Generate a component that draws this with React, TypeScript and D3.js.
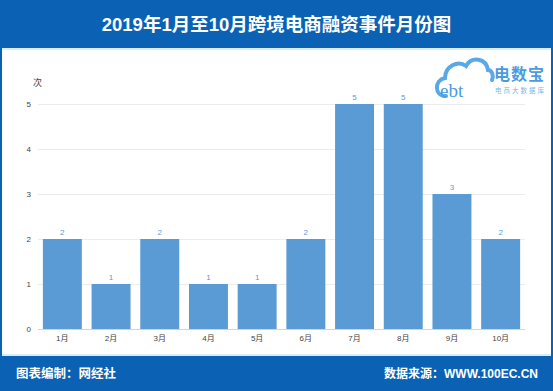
import React, { useEffect, useRef } from "react";
import * as d3 from "d3";

const months = ["1月", "2月", "3月", "4月", "5月", "6月", "7月", "8月", "9月", "10月"];
const counts = [2, 1, 2, 1, 1, 2, 5, 5, 3, 2];
const yTicks = [0, 1, 2, 3, 4, 5];

const title = "2019年1月至10月跨境电商融资事件月份图";
const unitLabel = "次";
const footerLeft = "图表编制：网经社";
const footerRight = "数据来源：WWW.100EC.CN";

const App: React.FC = () => {
  const svgRef = useRef<SVGSVGElement | null>(null);

  useEffect(() => {
    if (!svgRef.current) return;
    const svg = d3.select(svgRef.current);
    svg.selectAll("*").remove();

    const width = 553;
    const height = 391;
    const font = "Arial, 'Liberation Sans', 'Noto Sans CJK SC', sans-serif";
    const blue = "#0b62b4";

    svg.attr("width", width).attr("height", height);

    svg.append("rect").attr("width", width).attr("height", height).attr("fill", "#fff");

    // header
    svg.append("rect").attr("x", 0).attr("y", 0).attr("width", width).attr("height", 48).attr("fill", blue);
    svg.append("rect").attr("x", 0).attr("y", 48).attr("width", width).attr("height", 2).attr("fill", "#d6eefa");
    svg
      .append("text")
      .attr("x", width / 2)
      .attr("y", 31)
      .attr("text-anchor", "middle")
      .attr("fill", "#fff")
      .attr("font-family", font)
      .attr("font-weight", "bold")
      .attr("font-size", 18.5)
      .text(title);

    // footer
    svg.append("rect").attr("x", 0).attr("y", 354).attr("width", width).attr("height", 2).attr("fill", "#d6eefa");
    svg.append("rect").attr("x", 0).attr("y", 356).attr("width", width).attr("height", 35).attr("fill", blue);
    svg
      .append("text")
      .attr("x", 16)
      .attr("y", 378)
      .attr("fill", "#fff")
      .attr("font-family", font)
      .attr("font-weight", "bold")
      .attr("font-size", 12.5)
      .text(footerLeft);
    svg
      .append("text")
      .attr("x", 538)
      .attr("y", 378)
      .attr("text-anchor", "end")
      .attr("fill", "#fff")
      .attr("font-family", font)
      .attr("font-weight", "bold")
      .attr("font-size", 12)
      .text(footerRight);

    // side borders
    svg.append("rect").attr("x", 0).attr("y", 0).attr("width", 2).attr("height", height).attr("fill", blue);
    svg.append("rect").attr("x", width - 2).attr("y", 0).attr("width", 2).attr("height", height).attr("fill", blue);

    // chart
    const x = d3.scaleBand<string>().domain(months).range([38, 525]).paddingInner(0.2).paddingOuter(0.1);
    const y = d3.scaleLinear().domain([0, 5]).range([329, 104]);

    const grid = svg.append("g");
    grid
      .selectAll("line")
      .data(yTicks)
      .join("line")
      .attr("x1", 38)
      .attr("x2", 525)
      .attr("y1", (d) => y(d) + 0.5)
      .attr("y2", (d) => y(d) + 0.5)
      .attr("stroke", (d) => (d === 0 ? "#c9d6e3" : "#ececec"))
      .attr("stroke-width", 1);
    grid
      .selectAll("text")
      .data(yTicks)
      .join("text")
      .attr("x", 31)
      .attr("y", (d) => y(d) + 3)
      .attr("text-anchor", "end")
      .attr("fill", "#444")
      .attr("font-family", font)
      .attr("font-size", 8)
      .text((d) => String(d));

    svg
      .append("text")
      .attr("x", 33)
      .attr("y", 86)
      .attr("fill", "#444")
      .attr("font-family", font)
      .attr("font-size", 9)
      .text(unitLabel);

    const data = months.map((m, i) => ({ m, v: counts[i] }));

    svg
      .append("g")
      .attr("fill", "#5b9bd5")
      .selectAll("rect")
      .data(data)
      .join("rect")
      .attr("x", (d) => x(d.m)!)
      .attr("y", (d) => y(d.v))
      .attr("width", x.bandwidth())
      .attr("height", (d) => y(0) - y(d.v));

    svg
      .append("g")
      .selectAll("text")
      .data(data)
      .join("text")
      .attr("x", (d) => x(d.m)! + x.bandwidth() / 2)
      .attr("y", (d) => y(d.v) - 4)
      .attr("text-anchor", "middle")
      .attr("fill", "#5b9bd5")
      .attr("font-family", font)
      .attr("font-size", 8)
      .text((d) => String(d.v));

    svg
      .append("g")
      .selectAll("text")
      .data(months)
      .join("text")
      .attr("x", (d) => x(d)! + x.bandwidth() / 2)
      .attr("y", 341)
      .attr("text-anchor", "middle")
      .attr("fill", "#444")
      .attr("font-family", font)
      .attr("font-size", 8)
      .text((d) => d);

    // logo
    const logo = svg.append("g").attr("transform", "translate(436,56)");
    logo
      .append("path")
      .attr("d", "M10,40 C-2,40 -2,24 9,22 C9,10 22,4 30,10 C36,0 50,2 52,14 C56,14 58,20 56,24")
      .attr("fill", "none")
      .attr("stroke", "#5aa9e6")
      .attr("stroke-width", 4)
      .attr("stroke-linecap", "round");
    logo
      .append("text")
      .attr("x", 4)
      .attr("y", 41)
      .attr("fill", "#4a9be0")
      .attr("font-family", "'Liberation Serif', serif")
      .attr("font-size", 19)
      .text("ebt");
    logo
      .append("text")
      .attr("x", 55)
      .attr("y", 24)
      .attr("fill", "#4a9be0")
      .attr("font-family", font)
      .attr("font-weight", "bold")
      .attr("font-size", 16)
      .attr("letter-spacing", 1)
      .attr("dx", 3)
      .text("电数宝");
    logo
      .append("text")
      .attr("x", 59)
      .attr("y", 37)
      .attr("fill", "#7fb6e6")
      .attr("font-family", font)
      .attr("font-size", 6.5)
      .attr("letter-spacing", 2)
      .text("电商大数据库");
  }, []);

  return <svg ref={svgRef} style={{ display: "block", position: "absolute", left: 0, top: 0 }}></svg>;
};

export default App;
